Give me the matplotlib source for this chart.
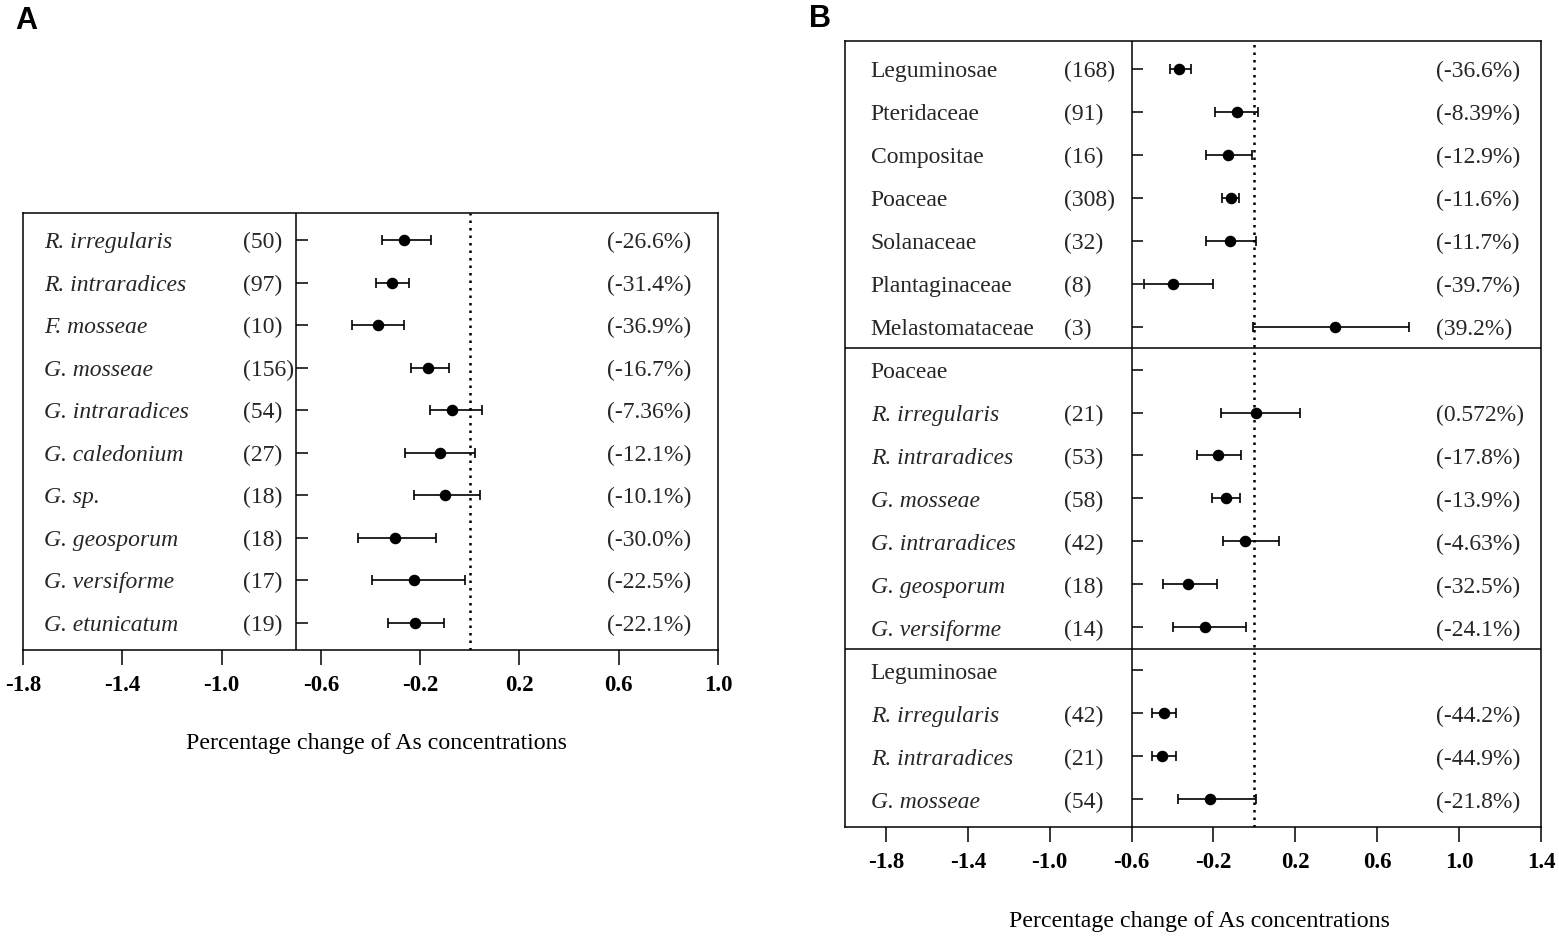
import numpy as np
import matplotlib
matplotlib.use("Agg")
import matplotlib.pyplot as plt

plt.rcParams['font.family'] = ['Liberation Serif', 'DejaVu Serif']

# ---- panel A data: AMF species ----
a_names = ["R. irregularis", "R. intraradices", "F. mosseae", "G. mosseae",
           "G. intraradices", "G. caledonium", "G. sp.", "G. geosporum",
           "G. versiforme", "G. etunicatum"]
a_n = [50, 97, 10, 156, 54, 27, 18, 18, 17, 19]
a_pct = ["-26.6%", "-31.4%", "-36.9%", "-16.7%", "-7.36%", "-12.1%",
         "-10.1%", "-30.0%", "-22.5%", "-22.1%"]
a_mean = [-0.266, -0.314, -0.369, -0.167, -0.0736, -0.121, -0.101, -0.300, -0.225, -0.221]
a_lo = [-0.352, -0.378, -0.475, -0.237, -0.161, -0.262, -0.223, -0.452, -0.393, -0.329]
a_hi = [-0.157, -0.245, -0.264, -0.085, 0.048, 0.020, 0.040, -0.138, -0.021, -0.104]

# ---- panel B data: plant families, then AMF within Poaceae / Leguminosae ----
# header rows have no count / estimate (None)
b_names = ["Leguminosae", "Pteridaceae", "Compositae", "Poaceae", "Solanaceae",
           "Plantaginaceae", "Melastomataceae",
           "Poaceae", "R. irregularis", "R. intraradices", "G. mosseae",
           "G. intraradices", "G. geosporum", "G. versiforme",
           "Leguminosae", "R. irregularis", "R. intraradices", "G. mosseae"]
b_italic = [False] * 8 + [True] * 6 + [False] + [True] * 3
b_n = [168, 91, 16, 308, 32, 8, 3,
       None, 21, 53, 58, 42, 18, 14,
       None, 42, 21, 54]
b_pct = ["-36.6%", "-8.39%", "-12.9%", "-11.6%", "-11.7%", "-39.7%", "39.2%",
         None, "0.572%", "-17.8%", "-13.9%", "-4.63%", "-32.5%", "-24.1%",
         None, "-44.2%", "-44.9%", "-21.8%"]
b_mean = [-0.366, -0.0839, -0.129, -0.116, -0.117, -0.397, 0.392,
          np.nan, 0.00572, -0.178, -0.139, -0.0463, -0.325, -0.241,
          np.nan, -0.442, -0.449, -0.218]
b_lo = [-0.414, -0.194, -0.237, -0.159, -0.237, -0.537, -0.007,
        np.nan, -0.161, -0.279, -0.206, -0.152, -0.445, -0.398,
        np.nan, -0.502, -0.499, -0.374]
b_hi = [-0.312, 0.019, -0.014, -0.076, 0.007, -0.204, 0.757,
        np.nan, 0.224, -0.066, -0.069, 0.120, -0.182, -0.043,
        np.nan, -0.383, -0.381, 0.009]
b_section_breaks = [6.5, 13.5]

xlabel = "Percentage change of As concentrations"
txt_color = "#262626"
fs = 17
dy = 0.06  # nudge text down a little so it sits on the row


def forest(ax, names, italic, counts, pcts, mean, lo, hi, xmin, xmax, xsep,
           x_name, x_n, x_pct, ticks, tick_len, label_shift):
    rows = np.arange(len(names))
    mean = np.asarray(mean, dtype=float)
    lo = np.asarray(lo, dtype=float)
    hi = np.asarray(hi, dtype=float)
    ok = ~np.isnan(mean)

    ax.errorbar(mean[ok], rows[ok], xerr=[mean[ok] - lo[ok], hi[ok] - mean[ok]],
                fmt='o', color='black', ms=7.3, elinewidth=1.2,
                capsize=3.3, capthick=1.2, zorder=3)
    ax.axvline(0, color='black', lw=1.8, ls=(0, (1, 2.0)), zorder=2)
    ax.axvline(xsep, color='black', lw=1.1, zorder=2)
    # row ticks on the separator line
    ax.hlines(rows, xsep, xsep + tick_len, color='black', lw=1.1)

    for i, name in enumerate(names):
        ax.text(x_name, i + dy, name, va='center', ha='left', fontsize=fs,
                style='italic' if italic[i] else 'normal', color=txt_color)
        if counts[i] is not None:
            ax.text(x_n, i + dy, f"({counts[i]})", va='center', ha='left',
                    fontsize=fs, color=txt_color)
        if pcts[i] is not None:
            ax.text(x_pct, i + dy, f"({pcts[i]})", va='center', ha='left',
                    fontsize=fs, color=txt_color)

    ax.set_xlim(xmin, xmax)
    ax.set_ylim(len(names) - 1 + 0.64, -0.64)
    ax.set_yticks([])
    ax.set_xticks(ticks)
    ax.set_xticklabels([f"{t:.1f}" for t in ticks], fontweight='bold', fontsize=16.5)
    ax.tick_params(axis='x', direction='out', length=10.5, width=1.1, pad=7.5)
    for s in ax.spines.values():
        s.set_linewidth(1.1)
    ax.set_xlabel(xlabel, fontsize=17.2, labelpad=27)
    ax.xaxis.label.set_x(0.5 + label_shift)


W, H = 1559, 936
fig = plt.figure(figsize=(W / 100, H / 100), dpi=100)

axA = fig.add_axes([23 / W, (H - 650) / H, 695 / W, 437 / H])
forest(axA, a_names, [True] * len(a_names), a_n, a_pct, a_mean, a_lo, a_hi,
       -1.8, 1.0, -0.7, -1.715, -0.915, 0.553,
       np.arange(-1.8, 1.01, 0.4), 0.048, 6 / 695)

axB = fig.add_axes([845 / W, (H - 827) / H, 696 / W, 786 / H])
forest(axB, b_names, b_italic, b_n, b_pct, b_mean, b_lo, b_hi,
       -2.0, 1.4, -0.6, -1.874, -0.932, 0.885,
       np.arange(-1.8, 1.41, 0.4), 0.054, 6 / 696)
for yb in b_section_breaks:
    axB.axhline(yb, color='black', lw=1.1)

fig.text(15 / W, 1 - 6 / H, "A", fontsize=22, fontweight='bold',
         family='Liberation Sans', va='top', ha='left')
fig.text(809 / W, 1 - 4 / H, "B", fontsize=22, fontweight='bold',
         family='Liberation Sans', va='top', ha='left')

fig.savefig("out.png", dpi=100)
